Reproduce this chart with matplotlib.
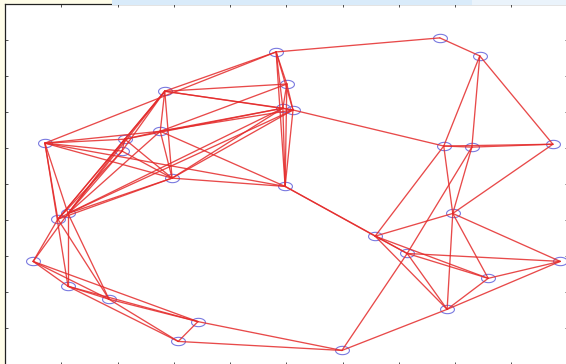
import numpy as np
import matplotlib
matplotlib.use("Agg")
import matplotlib.pyplot as plt
from matplotlib.path import Path
from matplotlib.markers import MarkerStyle
from matplotlib.patches import Rectangle

# Node positions of the network
node_x = [4.82, 7.73, 8.44, 5.01, 4.94, 5.12, 2.84, 2.76, 2.13, 2.08,
          0.71, 2.97, 4.98, 7.80, 8.30, 9.74, 1.12, 0.94, 0.50, 1.12,
          1.85, 3.43, 3.08, 5.99, 6.58, 7.96, 7.15, 8.59, 7.86, 9.87]
node_y = [8.67, 9.06, 8.56, 7.78, 7.11, 7.06, 7.58, 6.47, 6.25, 5.92,
          6.14, 5.17, 4.94, 6.06, 6.03, 6.11, 4.19, 4.03, 2.86, 2.17,
          1.81, 1.19, 0.64, 0.39, 3.56, 4.19, 3.08, 2.39, 1.53, 2.86]

# Links between nodes (source, target)
edge_src = [0, 1, 2, 2, 2, 13, 14, 13, 5, 13, 13, 14, 14, 15,
            0, 0, 0, 0, 3, 3, 4, 3, 4, 5,
            0, 0, 6, 6, 6, 6, 6, 6, 6, 6, 6,
            7, 7, 7, 7, 7, 7, 7, 7,
            8, 8, 8, 8, 8, 8,
            9, 9, 9, 9,
            10, 10, 10, 10, 10,
            11, 11, 11, 11, 11,
            16, 16,
            12, 12,
            16, 16, 17, 16, 16, 17,
            18, 18, 18, 19, 19, 19, 20, 20, 21, 21, 22,
            23, 23,
            24, 24, 24, 24,
            25, 25, 25,
            26, 26, 26,
            27, 28, 27]
edge_dst = [1, 2, 15, 13, 14, 14, 15, 15, 13, 24, 25, 25, 26, 25,
            3, 4, 5, 12, 4, 5, 5, 12, 12, 12,
            6, 10, 3, 4, 5, 7, 11, 8, 9, 16, 17,
            3, 4, 5, 8, 10, 11, 12, 16,
            9, 10, 11, 16, 17, 4,
            10, 11, 16, 17,
            11, 12, 16, 17, 19,
            12, 4, 5, 16, 17,
            4, 5,
            24, 26,
            17, 18, 18, 19, 20, 20,
            19, 20, 21, 20, 21, 22, 21, 22, 22, 23, 23,
            26, 28,
            25, 27, 28, 26,
            27, 28, 29,
            27, 28, 29,
            29, 29, 28]

W, H = 566, 364
fig = plt.figure(figsize=(W / 100, H / 100), dpi=100, facecolor="#fffde9")
# light window-frame band along the top edge
fig.patches.append(Rectangle((112 / W, 1 - 5 / H), 360 / W, 5 / H,
                             transform=fig.transFigure, facecolor="#d9ebfa",
                             edgecolor="none", zorder=0))
fig.patches.append(Rectangle((472 / W, 1 - 5 / H), 94 / W, 5 / H,
                             transform=fig.transFigure, facecolor="#eaf3fb",
                             edgecolor="none", zorder=0))

ax = fig.add_axes([5 / W, -0.5 / H, 562.5 / W, 360.5 / H])
ax.set_facecolor("white")
ax.set_xlim(0, 10)
ax.set_ylim(0, 10)

xs = np.array(node_x)
ys = np.array(node_y)
for s, t in zip(edge_src, edge_dst):
    ax.plot([xs[s], xs[t]], [ys[s], ys[t]], color="#e42a2a", lw=0.95,
            alpha=0.85, solid_capstyle="round", zorder=3)

# flattened circle marker
theta = np.linspace(0, 2 * np.pi, 60)
ell = Path(np.column_stack([np.cos(theta), 0.6 * np.sin(theta)]))
ax.plot(xs, ys, linestyle="none", marker=MarkerStyle(ell), markersize=10,
        markerfacecolor="none", markeredgecolor="#7a7ae0", markeredgewidth=0.8,
        zorder=2)

ticks = np.arange(1, 10)
ax.set_xticks(ticks)
ax.set_yticks(ticks)
ax.tick_params(direction="in", length=2.5, width=0.6, top=True, right=True,
               labelbottom=False, labelleft=False, colors="#333333")
for sp in ax.spines.values():
    sp.set_linewidth(0.9)
    sp.set_color("#222222")

fig.savefig("out.png", dpi=100, facecolor=fig.get_facecolor())
